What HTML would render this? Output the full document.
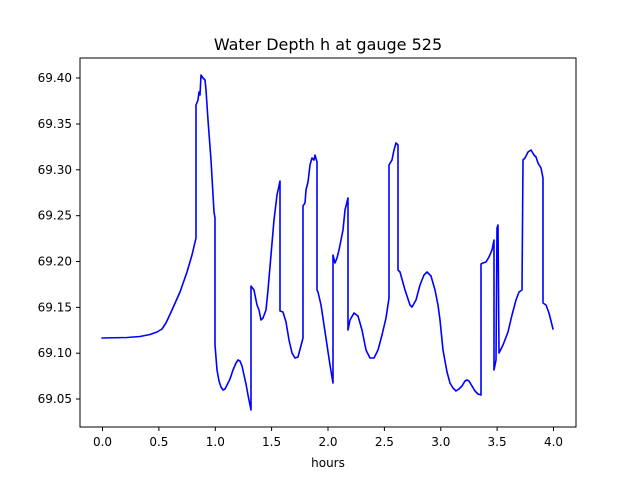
<!DOCTYPE html>
<html><head><meta charset="utf-8"><style>body{margin:0;background:#fff}svg{display:block}text{font-family:"DejaVu Sans","Liberation Sans",sans-serif;fill:#000}</style></head>
<body>
<svg width="640" height="480" viewBox="0 0 640 480">
<rect width="640" height="480" fill="#fff"/>
<text x="328" y="50" font-size="16" text-anchor="middle">Water Depth h at gauge 525</text>
<polyline fill="none" stroke="#0000ff" stroke-width="1.6" stroke-linejoin="round" stroke-linecap="round" points="
102,338 127,337.5 140,336.5 150,334.5 157,332 162,329 166,323 172,310 180,292 187,272 192,255 196,238 196,105 198,100 199,92 200,95 201,75 203,78 205,80 206,90 208,120 211,160 214,212 215,218 215,345 217,370 219,381 221,387 223,390 225,389 227,385 230,379 233,370 236,363 238,360 240,361 242,366 244,375 246,384 248,395 251,410 251,286 254,290 257,305 259,310 261,320 263,318 266,310 268,290 271,255 274,220 277,195 280,181 280,311 283,312 286,322 289,340 292,353 295,358 298,357 303,338 303,206 305,203 306,190 308,182 310,165 312,158 314,160 315,155 317,162 317,290 318,292 321,305 324,325 327,345 330,365 333,383 333,255 335,263 337,258 339,250 341,240 343,230 345,210 348,198 348,330 350,320 354,313 358,316 362,330 366,350 370,358 374,358 378,350 382,335 386,318 389,298 389,165 392,160 394,150 396,143 398,145 398,270 400,272 405,290 410,305 412,307 416,300 420,285 424,275 427,272 431,276 435,290 438,305 440,320 443,350 447,372 450,383 453,388 456,391 459,389 462,386 465,381 467,380 469,381 472,386 475,391 478,394 481,395 481,264 483,263 486,262 489,257 492,250 494,240 494,370 496,360 497,228 498,225 499,353 503,345 508,332 512,315 516,300 519,292 522,290 523,160 525,158 528,152 531,150 534,155 536,157 538,163 541,168 543,178 543,303 546,305 549,313 553,329"/>
<rect x="80" y="58" width="496" height="369" fill="none" stroke="#000" stroke-width="1"/>
<g stroke="#000" stroke-width="1">
<line x1="102.5" y1="427" x2="102.5" y2="431"/><line x1="158.9" y1="427" x2="158.9" y2="431"/><line x1="215.3" y1="427" x2="215.3" y2="431"/><line x1="271.6" y1="427" x2="271.6" y2="431"/><line x1="328" y1="427" x2="328" y2="431"/><line x1="384.4" y1="427" x2="384.4" y2="431"/><line x1="440.8" y1="427" x2="440.8" y2="431"/><line x1="497.1" y1="427" x2="497.1" y2="431"/><line x1="553.5" y1="427" x2="553.5" y2="431"/>
<line x1="76" y1="399" x2="80" y2="399"/><line x1="76" y1="353.2" x2="80" y2="353.2"/><line x1="76" y1="307.4" x2="80" y2="307.4"/><line x1="76" y1="261.5" x2="80" y2="261.5"/><line x1="76" y1="215.7" x2="80" y2="215.7"/><line x1="76" y1="169.8" x2="80" y2="169.8"/><line x1="76" y1="124" x2="80" y2="124"/><line x1="76" y1="78" x2="80" y2="78"/>
</g>
<g font-size="12" text-anchor="middle">
<text x="102.5" y="446">0.0</text><text x="158.9" y="446">0.5</text><text x="215.3" y="446">1.0</text><text x="271.6" y="446">1.5</text><text x="328" y="446">2.0</text><text x="384.4" y="446">2.5</text><text x="440.8" y="446">3.0</text><text x="497.1" y="446">3.5</text><text x="553.5" y="446">4.0</text>
<text x="328" y="467">hours</text>
</g>
<g font-size="12" text-anchor="end">
<text x="72" y="403">69.05</text><text x="72" y="357.2">69.10</text><text x="72" y="311.4">69.15</text><text x="72" y="265.5">69.20</text><text x="72" y="219.7">69.25</text><text x="72" y="173.8">69.30</text><text x="72" y="128">69.35</text><text x="72" y="82">69.40</text>
</g>
</svg>
</body></html>
